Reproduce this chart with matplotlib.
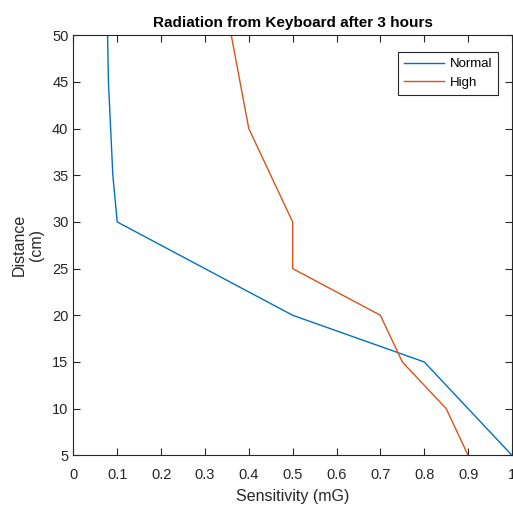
import matplotlib
matplotlib.use("Agg")
import matplotlib.pyplot as plt

plt.rcParams['font.family'] = ['Liberation Sans', 'DejaVu Sans']

distance = [50, 45, 40, 35, 30, 25, 20, 15, 10, 5]
normal = [0.078, 0.08, 0.085, 0.09, 0.1, 0.3, 0.5, 0.8, 0.9, 1.0]
high = [0.36, 0.38, 0.4, 0.45, 0.5, 0.5, 0.7, 0.75, 0.85, 0.9]

fig = plt.figure(figsize=(5.13, 5.11), dpi=100)
ax = fig.add_axes([0.143, 0.109, 0.855, 0.822])

ax.plot(normal, distance, color='#0072BD', lw=1.0, label='Normal')
ax.plot(high, distance, color='#D95319', lw=1.0, label='High')

ax.set_xlim(0, 1)
ax.set_ylim(5, 50)
ax.set_xticks([0, 0.1, 0.2, 0.3, 0.4, 0.5, 0.6, 0.7, 0.8, 0.9, 1])
ax.set_xticklabels(['0', '0.1', '0.2', '0.3', '0.4', '0.5', '0.6', '0.7', '0.8', '0.9', '1'])
ax.set_yticks(range(5, 51, 5))
ax.tick_params(direction='in', top=True, right=True, labelsize=10.5,
               colors='#262626', length=5, width=0.8)
ax.tick_params(axis='x', pad=9)
for s in ax.spines.values():
    s.set_color('#262626')
    s.set_linewidth(0.8)

ax.set_title('Radiation from Keyboard after 3 hours', fontsize=11, fontweight='bold', pad=6)
ax.set_xlabel('Sensitivity (mG)', fontsize=11.5, color='#262626', labelpad=5)
ax.set_ylabel('Distance\n(cm)', fontsize=11.5, color='#262626', labelpad=6)

leg = ax.legend(loc='upper right', bbox_to_anchor=(0.968, 0.9595), borderaxespad=0,
                fontsize=9.5, fancybox=False, framealpha=1, edgecolor='#262626',
                handlelength=3.0, handletextpad=0.45, borderpad=0.45,
                labelspacing=0.45)
leg.get_frame().set_linewidth(0.8)

fig.savefig('out.png', dpi=100)
